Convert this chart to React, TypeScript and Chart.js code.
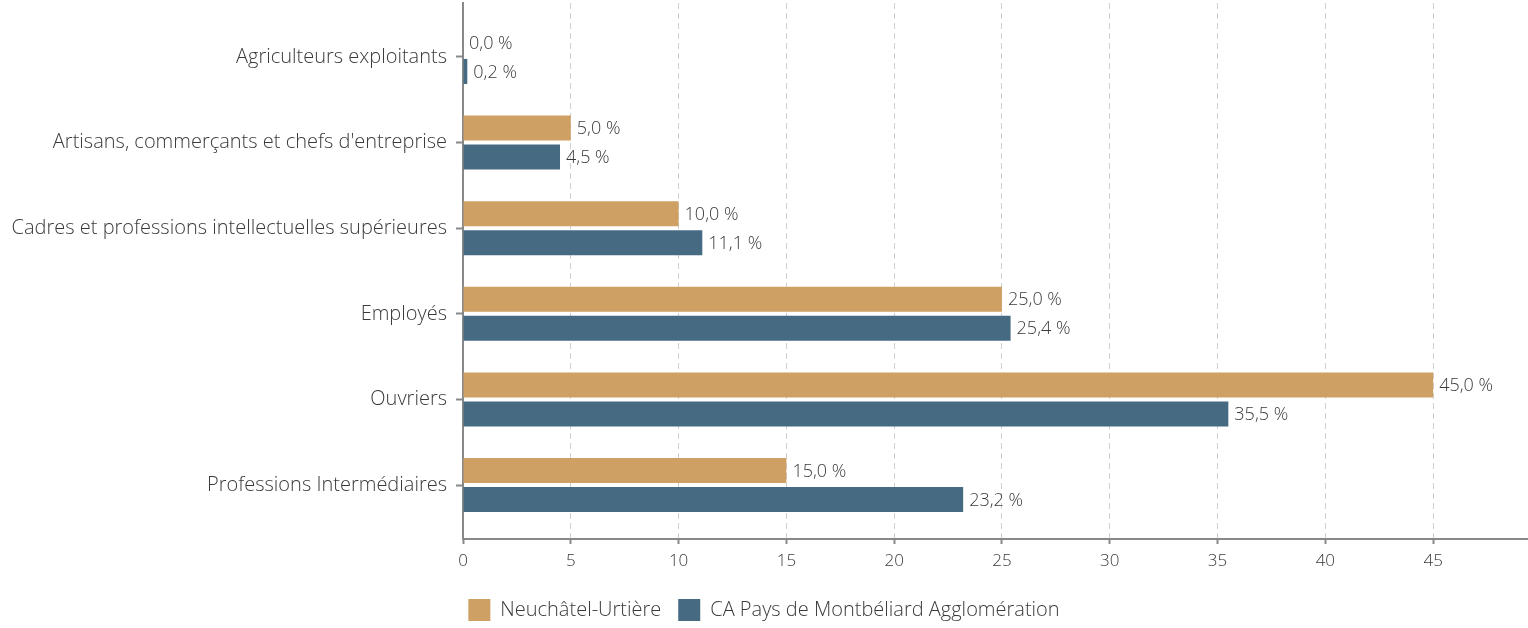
import React, { useEffect, useRef } from "react";
import { Chart, registerables } from "chart.js";

Chart.register(...registerables);

const categories: string[] = [
  "Agriculteurs exploitants",
  "Artisans, commerçants et chefs d'entreprise",
  "Cadres et professions intellectuelles supérieures",
  "Employés",
  "Ouvriers",
  "Professions Intermédiaires",
];
const neuchatel: number[] = [0.0, 5.0, 10.0, 25.0, 45.0, 15.0];
const montbeliard: number[] = [0.2, 4.5, 11.1, 25.4, 35.5, 23.2];
const seriesNames: string[] = ["Neuchâtel-Urtière", "CA Pays de Montbéliard Agglomération"];
const xTicks: number[] = [0, 5, 10, 15, 20, 25, 30, 35, 40, 45];

const FONT = "'Open Sans', 'Noto Sans', sans-serif";
const TEXT = "#3a3a3a";
const AXIS = "#888888";

const valueLabels = {
  id: "valueLabels",
  afterDatasetsDraw(chart: any) {
    const ctx = chart.ctx;
    ctx.save();
    ctx.font = `300 18px ${FONT}`;
    ctx.fillStyle = TEXT;
    ctx.textAlign = "left";
    ctx.textBaseline = "middle";
    chart.data.datasets.forEach((ds: any, di: number) => {
      const meta = chart.getDatasetMeta(di);
      meta.data.forEach((el: any, i: number) => {
        const v = ds.data[i].x as number;
        const txt = v.toFixed(1).replace(".", ",") + " %";
        ctx.fillText(txt, el.x + 6, el.y + 1);
      });
    });
    ctx.restore();
  },
};

export default function App() {
  const ref = useRef<HTMLCanvasElement | null>(null);
  useEffect(() => {
    document.body.style.margin = "0";
    if (!ref.current) return;
    const chart = new Chart(ref.current, {
      type: "bar",
      data: {
        datasets: [
          {
            label: seriesNames[0],
            data: neuchatel.map((v, i) => ({ x: v, y: i })),
            backgroundColor: "#CFA064",
            borderWidth: 0,
            categoryPercentage: 0.678,
            barPercentage: 0.862,
          },
          {
            label: seriesNames[1],
            data: montbeliard.map((v, i) => ({ x: v, y: i })),
            backgroundColor: "#456A82",
            borderWidth: 0,
            categoryPercentage: 0.678,
            barPercentage: 0.862,
          },
        ],
      },
      options: {
        indexAxis: "y",
        responsive: false,
        animation: false,
        devicePixelRatio: 1,
        layout: { padding: { top: 3, left: 0, right: 0, bottom: -3 } },
        plugins: {
          tooltip: { enabled: false },
          legend: {
            position: "bottom",
            labels: {
              boxWidth: 22,
              boxHeight: 22,
              padding: 17,
              color: TEXT,
              font: { family: FONT, size: 20, weight: "300" },
            },
          },
        },
        scales: {
          x: {
            type: "linear",
            min: 0,
            max: 49.4,
            afterBuildTicks: (s: any) => {
              s.ticks = xTicks.map((v) => ({ value: v }));
            },
            afterFit: (s: any) => {
              s.height = 43;
            },
            ticks: {
              includeBounds: false,
              color: TEXT,
              padding: 7,
              font: { family: FONT, size: 17, weight: "300" },
            },
            grid: {
              color: "#d0d0d0",
              lineWidth: 1,
              tickLength: 5,
              tickColor: AXIS,
              tickWidth: 2,
            },
            border: { display: true, color: AXIS, width: 2, dash: [6, 4] },
          },
          y: {
            type: "linear",
            reverse: true,
            offset: false,
            min: -0.63,
            max: 5.63,
            afterBuildTicks: (s: any) => {
              s.ticks = categories.map((_, i) => ({ value: i }));
            },
            afterFit: (s: any) => {
              s.width = 463;
              s.paddingTop = 0;
              s.paddingBottom = 0;
            },
            ticks: {
              autoSkip: false,
              color: TEXT,
              padding: 9,
              font: { family: FONT, size: 20, weight: "300" },
              callback: (v: any) => categories[v as number],
            },
            grid: {
              offset: false,
              drawOnChartArea: false,
              tickLength: 7,
              tickColor: AXIS,
              tickWidth: 2,
            },
            border: { display: true, color: AXIS, width: 2 },
          },
        },
      },
      plugins: [valueLabels],
    } as any);
    return () => chart.destroy();
  }, []);
  return (
    <div style={{ width: 1528, height: 628 }}>
      <canvas ref={ref} width={1528} height={628} />
    </div>
  );
}
